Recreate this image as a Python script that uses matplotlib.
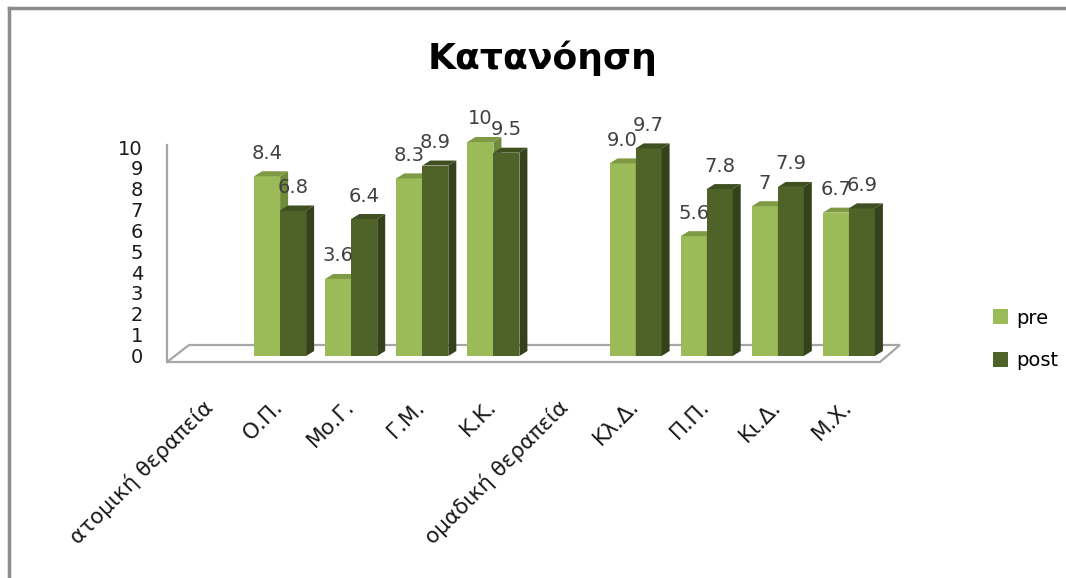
import matplotlib
matplotlib.use('Agg')
import matplotlib.pyplot as plt
from matplotlib.patches import Polygon, Rectangle, Patch
from matplotlib.lines import Line2D

plt.rcParams['font.family'] = ['DejaVu Sans']

# ── data ─────────────────────────────────────────────────────
categories = ['ατομική θεραπεία', 'Ο.Π.', 'Μο.Γ.', 'Γ.Μ.', 'Κ.Κ.',
              'ομαδική θεραπεία', 'Κλ.Δ.', 'Π.Π.', 'Κι.Δ.', 'Μ.Χ.']
pre = [None, 8.4, 3.6, 8.3, 10, None, 9.0, 5.6, 7, 6.7]
post = [None, 6.8, 6.4, 8.9, 9.5, None, 9.7, 7.8, 7.9, 6.9]
pre_labels = ['', '8.4', '3.6', '8.3', '10', '', '9.0', '5.6', '7', '6.7']
post_labels = ['', '6.8', '6.4', '8.9', '9.5', '', '9.7', '7.8', '7.9', '6.9']
yticks = list(range(0, 11))
series_names = ['pre', 'post']

# ── style ────────────────────────────────────────────────────
W, H = 1066, 578
PX_X = 71.1      # pixels per category
PX_Y = 21.4      # pixels per value unit
BAR_W = 26 / PX_X
DX, DY = 8 / PX_X, 5 / PX_Y          # bar depth offset
colors = {
    'pre':  dict(front='#9bbb59', top='#7f9a45', side='#6f8a3a'),
    'post': dict(front='#4f6228', top='#3f4f1f', side='#34411a'),
}
LABEL_COLOR = '#404040'
GRID_GRAY = '#a6a6a6'

fig = plt.figure(figsize=(W / 100, H / 100), dpi=100)
fig.patch.set_facecolor('white')
ax = fig.add_axes([173.45 / W, 1 - 356 / H, 711 / W, 214 / H])
ax.set_xlim(-0.5, 9.5)
ax.set_ylim(0, 10)
ax.axis('off')

# outer frame (left and top only)
fig.add_artist(Line2D([9 / W, 9 / W], [0, 1 - 8 / H], transform=fig.transFigure,
                      color='#8c8c8c', lw=2.5))
fig.add_artist(Line2D([9 / W, 1], [1 - 8 / H, 1 - 8 / H], transform=fig.transFigure,
                      color='#8c8c8c', lw=2.5))

# floor and value axis
fx0 = -0.5 - 6.45 / PX_X
floor_front, floor_back = -6 / PX_Y, 11 / PX_Y
floor = Polygon([(fx0, floor_front), (fx0 + 22 / PX_X, floor_back),
                 (9.5 + 15.5 / PX_X, floor_back), (9.5 - 4.5 / PX_X, floor_front)],
                closed=True, facecolor='white', edgecolor=GRID_GRAY, lw=1.6,
                clip_on=False, zorder=1)
ax.add_patch(floor)
ax.plot([fx0, fx0], [floor_front, 9.86], color=GRID_GRAY, lw=1.6,
        clip_on=False, zorder=1)

for t in yticks:
    ax.text(-0.5 - 30.5 / PX_X, -0.07 + 0.974 * t, str(t), ha='right', va='center',
            fontsize=14, color='#1a1a1a', clip_on=False)


def draw_bar(x0, v, c, z):
    ax.add_patch(Rectangle((x0, 0), BAR_W, v, facecolor=c['front'],
                           edgecolor='none', zorder=z, clip_on=False))
    ax.add_patch(Polygon([(x0 + BAR_W, 0), (x0 + BAR_W + DX, DY),
                          (x0 + BAR_W + DX, v + DY), (x0 + BAR_W, v)],
                         facecolor=c['side'], edgecolor='none', zorder=z, clip_on=False))
    ax.add_patch(Polygon([(x0, v), (x0 + DX, v + DY), (x0 + BAR_W + DX, v + DY),
                          (x0 + BAR_W, v)],
                         facecolor=c['top'], edgecolor='none', zorder=z, clip_on=False))


for i in range(len(categories)):
    for s, (vals, labs) in enumerate([(pre, pre_labels), (post, post_labels)]):
        v = vals[i]
        if v is None:
            continue
        x0 = i - BAR_W + s * BAR_W
        draw_bar(x0, v, colors[series_names[s]], 2 + i * 2 + s)
        ax.annotate(labs[i], (x0 + BAR_W / 2, v), xytext=(0, 23),
                    textcoords='offset pixels', ha='center', va='center',
                    fontsize=14, color=LABEL_COLOR, zorder=30, annotation_clip=False)

# category labels
for i, name in enumerate(categories):
    ax.text(i - 0.1, -40 / PX_Y, name, rotation=45, rotation_mode='anchor',
            ha='right', va='top', fontsize=15.5, color='#1a1a1a', clip_on=False)

# title
fig.text(543 / W, 1 - 58 / H, 'Κατανόηση', ha='center', va='center',
         fontsize=26, fontweight='bold', color='black')

# legend
handles = [Patch(facecolor=colors[n]['front'], edgecolor='none', label=n)
           for n in series_names]
fig.legend(handles=handles, loc='upper left', bbox_to_anchor=(975 / W, 1 - 291 / H),
           frameon=False, fontsize=14, handlelength=0.8, handleheight=0.8,
           handletextpad=0.4, labelspacing=1.2)

fig.savefig('out.png', dpi=100)
